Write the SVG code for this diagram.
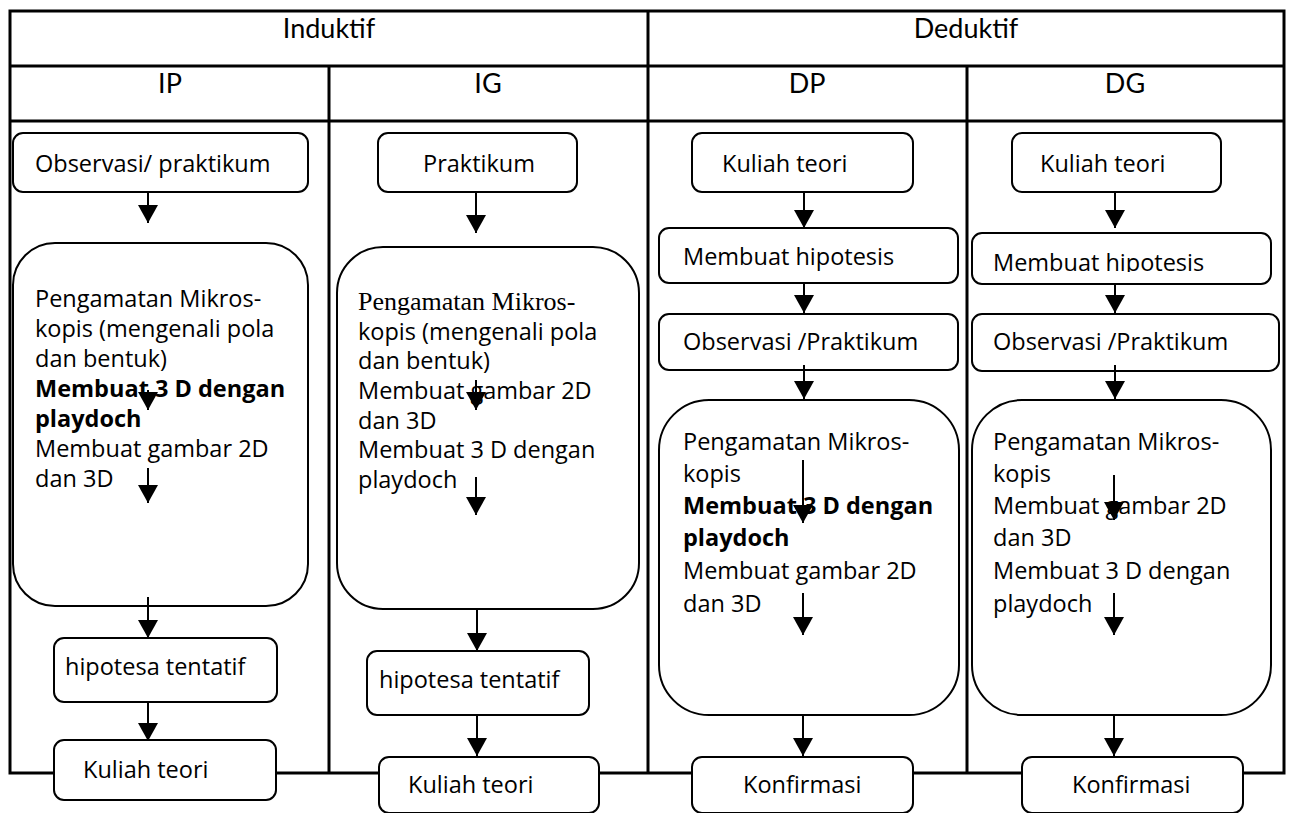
<svg xmlns="http://www.w3.org/2000/svg" width="1289" height="813" viewBox="0 0 1289 813">
  <style>
    .grid { stroke: #000; stroke-width: 3; fill: none; }
    .box { fill: #fff; stroke: #000; stroke-width: 2; }
    .head { font-family: Lato, "Open Sans", sans-serif; font-size: 27px; fill: #000; text-anchor: middle; }
    .t { font-family: "Open Sans", "Noto Sans", sans-serif; font-size: 23.5px; fill: #000; }
    .b { font-weight: bold; }
    .serif { font-family: "Liberation Serif", "Times New Roman", serif; font-size: 26px; }
    .arrow { stroke: #000; stroke-width: 2; fill: none; marker-end: url(#head); }
  </style>
  <defs>
    <!-- filled triangular head, tip at the end point of the line -->
    <marker id="head" markerUnits="userSpaceOnUse" markerWidth="18" markerHeight="20" viewBox="0 0 18 20" refX="18" refY="10" orient="auto">
      <path d="M0,0 L18,10 L0,20 Z" fill="#000"/>
    </marker>
    <clipPath id="clipHip">
      <rect x="972" y="233" width="300" height="39"/>
    </clipPath>
  </defs>
  <rect width="1289" height="813" fill="#fff"/>

  <!-- table grid -->
  <g id="table">
    <rect class="grid" x="10" y="11" width="1274" height="762"/>
    <line class="grid" x1="10" y1="66" x2="1284" y2="66"/>
    <line class="grid" x1="10" y1="121" x2="1284" y2="121"/>
    <line class="grid" x1="648" y1="11" x2="648" y2="773"/>
    <line class="grid" x1="329" y1="66" x2="329" y2="773"/>
    <line class="grid" x1="967" y1="66" x2="967" y2="773"/>
    <text class="head" x="329" y="38">Induktif</text>
    <text class="head" x="966" y="38">Deduktif</text>
    <text class="head" x="170" y="93">IP</text>
    <text class="head" x="488" y="93">IG</text>
    <text class="head" x="807" y="93">DP</text>
    <text class="head" x="1125" y="93">DG</text>
  </g>

  <!-- IP column -->
  <g id="ip-observasi">
    <rect class="box" x="13" y="133" width="295" height="59" rx="10"/>
    <text class="t" x="35" y="172">Observasi/ praktikum</text>
  </g>
  <g id="ip-pengamatan">
    <rect class="box" x="13" y="243" width="295" height="363" rx="42"/>
    <text class="t" x="35" y="307">Pengamatan Mikros-</text>
    <text class="t" x="35" y="337">kopis (mengenali pola</text>
    <text class="t" x="35" y="367">dan bentuk)</text>
    <text class="t b" x="35" y="397">Membuat 3 D dengan</text>
    <text class="t b" x="35" y="427">playdoch</text>
    <text class="t" x="35" y="457">Membuat gambar  2D</text>
    <text class="t" x="35" y="487">dan 3D</text>
  </g>
  <g id="ip-hipotesa">
    <rect class="box" x="54" y="638" width="223" height="64" rx="10"/>
    <text class="t" x="65" y="675">hipotesa tentatif</text>
  </g>
  <g id="ip-kuliah">
    <rect class="box" x="54" y="740" width="222" height="60" rx="10"/>
    <text class="t" x="83" y="778">Kuliah teori</text>
  </g>

  <!-- IG column -->
  <g id="ig-praktikum">
    <rect class="box" x="378" y="133" width="199" height="59" rx="10"/>
    <text class="t" x="423" y="172">Praktikum</text>
  </g>
  <g id="ig-pengamatan">
    <rect class="box" x="337" y="247" width="302" height="362" rx="46"/>
    <text class="t serif" x="358" y="310">Pengamatan Mikros-</text>
    <text class="t" x="358" y="340">kopis (mengenali pola</text>
    <text class="t" x="358" y="369">dan bentuk)</text>
    <text class="t" x="358" y="399">Membuat gambar  2D</text>
    <text class="t" x="358" y="429">dan 3D</text>
    <text class="t" x="358" y="458">Membuat 3 D dengan</text>
    <text class="t" x="358" y="488">playdoch</text>
  </g>
  <g id="ig-hipotesa">
    <rect class="box" x="367" y="651" width="222" height="64" rx="10"/>
    <text class="t" x="379" y="688">hipotesa tentatif</text>
  </g>
  <g id="ig-kuliah">
    <rect class="box" x="379" y="757" width="220" height="56" rx="10"/>
    <text class="t" x="408" y="793">Kuliah teori</text>
  </g>

  <!-- DP column -->
  <g id="dp-kuliah">
    <rect class="box" x="692" y="133" width="221" height="59" rx="10"/>
    <text class="t" x="722" y="172">Kuliah teori</text>
  </g>
  <g id="dp-hipotesis">
    <rect class="box" x="659" y="228" width="299" height="55" rx="10"/>
    <text class="t" x="683" y="265">Membuat hipotesis</text>
  </g>
  <g id="dp-observasi">
    <rect class="box" x="659" y="314" width="299" height="56" rx="10"/>
    <text class="t" x="683" y="350">Observasi /Praktikum</text>
  </g>
  <g id="dp-pengamatan">
    <rect class="box" x="659" y="400" width="300" height="315" rx="50"/>
    <text class="t" x="683" y="450">Pengamatan Mikros-</text>
    <text class="t" x="683" y="482">kopis</text>
    <text class="t b" x="683" y="514">Membuat 3 D dengan</text>
    <text class="t b" x="683" y="546">playdoch</text>
    <text class="t" x="683" y="579">Membuat gambar  2D</text>
    <text class="t" x="683" y="612">dan 3D</text>
  </g>
  <g id="dp-konfirmasi">
    <rect class="box" x="692" y="757" width="221" height="56" rx="10"/>
    <text class="t" x="743" y="793">Konfirmasi</text>
  </g>

  <!-- DG column -->
  <g id="dg-kuliah">
    <rect class="box" x="1012" y="133" width="209" height="59" rx="10"/>
    <text class="t" x="1040" y="172">Kuliah teori</text>
  </g>
  <g id="dg-hipotesis">
    <rect class="box" x="972" y="233" width="299" height="51" rx="10"/>
    <text class="t" x="993" y="271" clip-path="url(#clipHip)">Membuat hipotesis</text>
  </g>
  <g id="dg-observasi">
    <rect class="box" x="972" y="314" width="307" height="57" rx="10"/>
    <text class="t" x="993" y="350">Observasi /Praktikum</text>
  </g>
  <g id="dg-pengamatan">
    <rect class="box" x="972" y="400" width="299" height="315" rx="50"/>
    <text class="t" x="993" y="450">Pengamatan Mikros-</text>
    <text class="t" x="993" y="482">kopis</text>
    <text class="t" x="993" y="514">Membuat gambar  2D</text>
    <text class="t" x="993" y="546">dan 3D</text>
    <text class="t" x="993" y="579">Membuat 3 D dengan</text>
    <text class="t" x="993" y="612">playdoch</text>
  </g>
  <g id="dg-konfirmasi">
    <rect class="box" x="1022" y="757" width="221" height="56" rx="10"/>
    <text class="t" x="1072" y="793">Konfirmasi</text>
  </g>

  <!-- connectors -->
  <g id="connectors">
    <!-- IP -->
    <line class="arrow" x1="148" y1="192" x2="148" y2="223"/>
    <line class="arrow" x1="148" y1="390" x2="148" y2="410"/>
    <line class="arrow" x1="148" y1="468" x2="148" y2="503"/>
    <line class="arrow" x1="148" y1="597" x2="148" y2="638"/>
    <line class="arrow" x1="148" y1="702" x2="148" y2="741"/>
    <!-- IG -->
    <line class="arrow" x1="476" y1="192" x2="476" y2="233"/>
    <line class="arrow" x1="476" y1="380" x2="476" y2="410"/>
    <line class="arrow" x1="476" y1="477" x2="476" y2="515"/>
    <line class="arrow" x1="477" y1="609" x2="477" y2="651"/>
    <line class="arrow" x1="477" y1="715" x2="477" y2="756"/>
    <!-- DP -->
    <line class="arrow" x1="804" y1="192" x2="804" y2="228"/>
    <line class="arrow" x1="804" y1="283" x2="804" y2="313"/>
    <line class="arrow" x1="804" y1="365" x2="804" y2="399"/>
    <line class="arrow" x1="803" y1="460" x2="803" y2="523"/>
    <line class="arrow" x1="803" y1="593" x2="803" y2="635"/>
    <line class="arrow" x1="803" y1="715" x2="803" y2="756"/>
    <!-- DG -->
    <line class="arrow" x1="1115" y1="192" x2="1115" y2="228"/>
    <line class="arrow" x1="1115" y1="284" x2="1115" y2="313"/>
    <line class="arrow" x1="1115" y1="365" x2="1115" y2="399"/>
    <line class="arrow" x1="1114" y1="475" x2="1114" y2="520"/>
    <line class="arrow" x1="1114" y1="593" x2="1114" y2="635"/>
    <line class="arrow" x1="1114" y1="715" x2="1114" y2="756"/>
  </g>
</svg>
